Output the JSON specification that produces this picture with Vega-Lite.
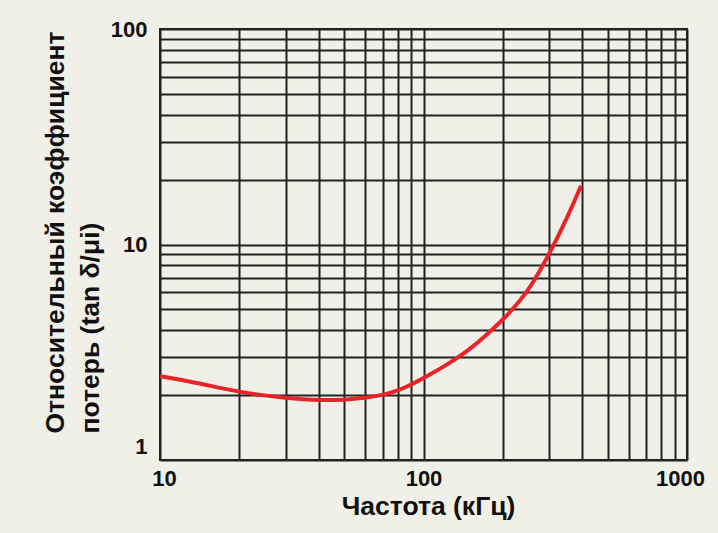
{
  "$schema": "https://vega.github.io/schema/vega-lite/v6.json",
  "autosize": "none",
  "width": 527,
  "height": 431,
  "padding": {"left": 160, "top": 29, "right": 31, "bottom": 73},
  "background": "#f1f0e8",
  "config": {
    "view": {"stroke": "#222222", "strokeWidth": 2, "fill": "#f1f0e8"},
    "axis": {
      "labelFont": "Liberation Sans",
      "titleFont": "Liberation Sans",
      "labelColor": "#111111",
      "titleColor": "#111111",
      "labelFontWeight": "bold",
      "titleFontWeight": "bold",
      "gridColor": "#222222",
      "gridWidth": 2,
      "gridOpacity": 1,
      "ticks": false,
      "domain": false
    }
  },
  "data": {
    "values": [
      {"f": 10, "v": 2.45},
      {"f": 12, "v": 2.36},
      {"f": 15, "v": 2.23},
      {"f": 20, "v": 2.07},
      {"f": 25, "v": 1.99},
      {"f": 30, "v": 1.94},
      {"f": 35, "v": 1.91},
      {"f": 40, "v": 1.895},
      {"f": 50, "v": 1.9},
      {"f": 60, "v": 1.94},
      {"f": 70, "v": 2.0},
      {"f": 80, "v": 2.1},
      {"f": 90, "v": 2.24},
      {"f": 100, "v": 2.4},
      {"f": 120, "v": 2.72},
      {"f": 141, "v": 3.08},
      {"f": 170, "v": 3.72},
      {"f": 200, "v": 4.46},
      {"f": 232, "v": 5.45},
      {"f": 257, "v": 6.45},
      {"f": 300, "v": 9.0},
      {"f": 350, "v": 13.2},
      {"f": 396, "v": 18.7}
    ]
  },
  "mark": {"type": "line", "color": "#e8232a", "strokeWidth": 4, "interpolate": "basis"},
  "encoding": {
    "x": {
      "field": "f",
      "type": "quantitative",
      "scale": {"type": "log", "domain": [10, 1000], "nice": false},
      "axis": {
        "values": [10, 20, 30, 40, 50, 60, 70, 80, 90, 100, 200, 300, 400, 500, 600, 700, 800, 900, 1000],
        "labelExpr": "datum.value == 10 || datum.value == 100 || datum.value == 1000 ? format(datum.value, 'd') : ''",
        "labelFontSize": 22,
        "labelPadding": 8,
        "labelFlush": false,
        "labelOffset": {"condition": [{"test": "datum.value == 10", "value": 4}, {"test": "datum.value == 1000", "value": -7}], "value": 0},
        "title": "Частота (кГц)",
        "titleFontSize": 26.5,
        "titleX": 268,
        "titleY": 33,
        "titleAlign": "center",
        "titleBaseline": "top"
      }
    },
    "y": {
      "field": "v",
      "type": "quantitative",
      "scale": {"type": "log", "domain": [1, 100], "nice": false},
      "axis": {
        "values": [1, 2, 3, 4, 5, 6, 7, 8, 9, 10, 20, 30, 40, 50, 60, 70, 80, 90, 100],
        "labelExpr": "datum.value == 1 || datum.value == 10 || datum.value == 100 ? format(datum.value, 'd') : ''",
        "labelFontSize": 22,
        "labelPadding": 13,
        "labelFlush": false,
        "labelOffset": {"condition": {"test": "datum.value == 1", "value": -14}, "value": 0},
        "title": ["Относительный коэффициент", "потерь (tan δ/μi)"],
        "titleFontSize": 26.5,
        "titleLineHeight": 35,
        "titleAngle": -90,
        "titleAlign": "left",
        "titleBaseline": "top",
        "titleX": -118,
        "titleY": 404
      }
    }
  }
}
